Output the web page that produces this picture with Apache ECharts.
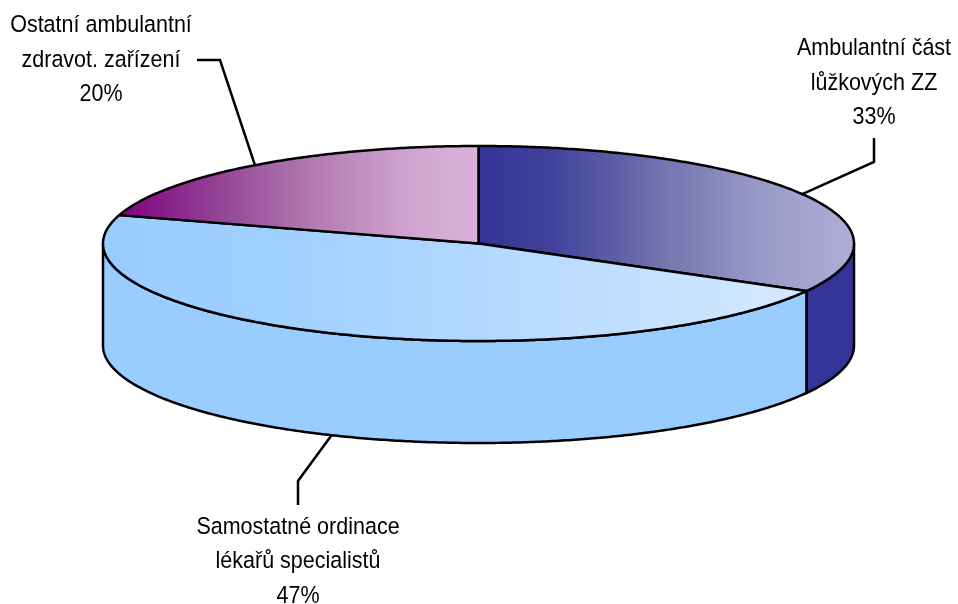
<!DOCTYPE html>
<html><head><meta charset="utf-8">
<style>html,body{margin:0;padding:0;background:#fff}#c{width:958px;height:604px}</style>
<script src="https://cdn.jsdelivr.net/npm/echarts@6/dist/echarts.min.js"></script>
</head><body><div id="c"></div>
<script>
var categories = ['Ambulantní část\nlůžkových ZZ', 'Samostatné ordinace\nlékařů specialistů', 'Ostatní ambulantní\nzdravot. zařízení'];
var shares = [33.1, 46.6, 20.3];
var topStops = [
  [[0, '#333399'], [0.2, '#42429B'], [0.5, '#7575B0'], [0.75, '#9A9AC8'], [1, '#AEAED6']],
  [[0, '#99CCFF'], [0.25, '#A0D0FF'], [0.55, '#B4D9FF'], [1, '#D4E9FF']],
  [[0, '#800080'], [0.33, '#97509A'], [0.55, '#B47CB2'], [0.8, '#CFA3CF'], [0.92, '#D6AFD8'], [1, '#D8B0D8']]
];
var wallColors = ['#333399', '#99CCFF', '#800080'];

var CX = 478.5, CY = 243.5, RX = 375.5, RY = 97.5, DEPTH = 102;
var labelPos = [[874, 83], [298, 561.5], [101, 60]];
var elbows = [[[874, 162], [874, 138]], [[298, 481], [298, 505]], [[220, 60], [197, 60]]];

var total = shares.reduce(function (a, b) { return a + b; }, 0);
function pt(deg, dy) {
  var r = deg * Math.PI / 180;
  return [CX + RX * Math.sin(r), CY - RY * Math.cos(r) + (dy || 0)];
}
function arc(a, b, dy) {
  var out = [], n = Math.max(2, Math.ceil(Math.abs(b - a) * 2));
  for (var i = 0; i <= n; i++) out.push(pt(a + (b - a) * i / n, dy));
  return out;
}
function renderItem(params, api) {
  var i = params.dataIndex, before = 0;
  for (var k = 0; k < i; k++) before += shares[k];
  var a0 = before / total * 360, a1 = a0 + api.value(0) / total * 360;
  var children = [];
  var lineStyle = { stroke: '#000', lineWidth: 2.5, lineJoin: 'round' };

  var wa = Math.max(a0, 90), wb = Math.min(a1, 270);
  if (wb > wa) {
    children.push({
      type: 'polygon',
      shape: { points: arc(wa, wb, 0).concat(arc(wb, wa, DEPTH)) },
      style: Object.assign({ fill: wallColors[i] }, lineStyle)
    });
  }
  var pts = [[CX, CY]].concat(arc(a0, a1, 0));
  children.push({
    type: 'polygon',
    shape: { points: pts },
    style: Object.assign({
      fill: { type: 'linear', x: 0, y: 0, x2: 1, y2: 0, colorStops: topStops[i].map(function (s) {
        return { offset: s[0], color: s[1] };
      }) }
    }, lineStyle)
  });
  var mid = (a0 + a1) / 2;
  var front = mid > 90 && mid < 270;
  var anchor = pt(mid, front ? DEPTH : 0);
  children.push({
    type: 'polyline',
    shape: { points: [anchor].concat(elbows[i]) },
    style: { stroke: '#000', lineWidth: 2.5, fill: null }
  });
  children.push({
    type: 'text',
    x: labelPos[i][0], y: labelPos[i][1],
    scaleY: 1.14,
    style: {
      text: categories[i] + '\n' + Math.round(api.value(0) / total * 100) + '%',
      x: 0, y: 0,
      align: 'center', verticalAlign: 'middle',
      font: '21.5px "Liberation Sans"', lineHeight: 30.3, fill: '#000'
    }
  });
  return { type: 'group', children: children };
}
var chart = echarts.init(document.getElementById('c'), null, { renderer: 'canvas' });
chart.setOption({
  backgroundColor: '#fff',
  animation: false,
  series: [{
    type: 'custom',
    coordinateSystem: 'none',
    renderItem: renderItem,
    data: shares.map(function (v, i) { return { name: categories[i], value: [v] }; })
  }]
});
</script></body></html>
